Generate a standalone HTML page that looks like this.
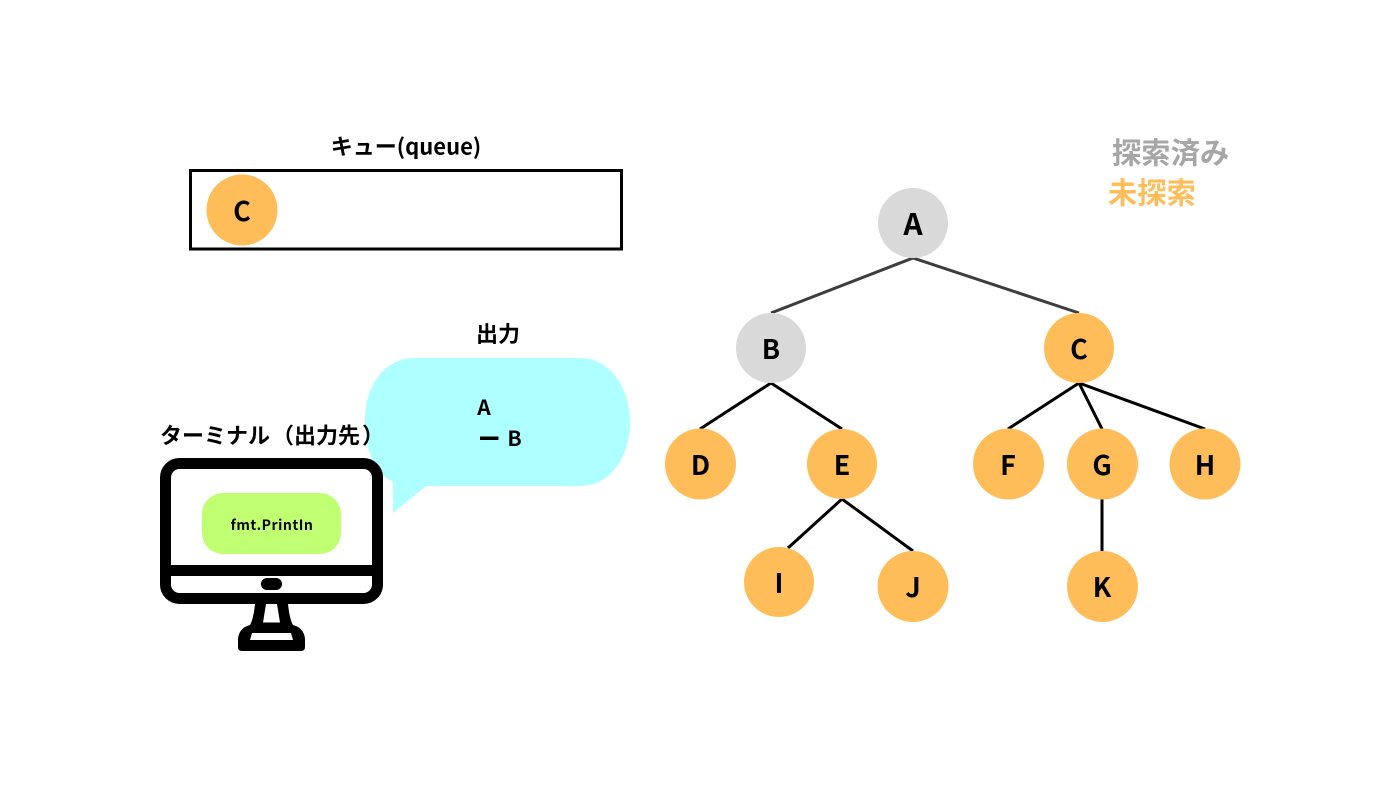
<!DOCTYPE html>
<html lang="ja">
<head>
<meta charset="utf-8">
<style>
html,body{margin:0;padding:0;background:#fff;width:1400px;height:787px;overflow:hidden}
svg{display:block}
text{font-family:"Liberation Sans","Noto Sans CJK JP",sans-serif;font-weight:700;fill:#000}
.j{font-family:"Noto Sans CJK JP",sans-serif;font-feature-settings:"chws" 0,"palt" 0;text-spacing-trim:space-all}
.n{font-family:"Noto Sans CJK JP",sans-serif;font-size:27px;text-anchor:middle}
</style>
</head>
<body>
<svg width="1400" height="787" viewBox="0 0 1400 787" xmlns="http://www.w3.org/2000/svg">
<rect width="1400" height="787" fill="#fff"/>

<!-- queue -->
<text class="j" x="406" y="154.500" font-size="22" text-anchor="middle">キュー(queue)</text>
<rect x="190.5" y="170.5" width="431" height="78.5" fill="#fff" stroke="#000" stroke-width="3"/>
<circle cx="242" cy="210" r="35.5" fill="#ffbd59"/>
<text class="n" x="242" y="221">C</text>

<!-- legend -->
<text class="j" x="1112" y="163.500" font-size="29.3" style="fill:#a6a6a6">探索済み</text>
<text class="j" x="1108" y="203.500" font-size="29.3" style="fill:#ffbd59">未探索</text>

<!-- tree lines -->
<g fill="none" stroke-width="3" stroke="#3d3d3d">
<path d="M771 313L913 258L1079 313"/>
</g>
<g fill="none" stroke-width="3" stroke="#000">
<path d="M700 429L771 383L842 429"/>
<path d="M1008 429L1079 383L1205 429"/>
<path d="M1079 383L1102 429"/>
<path d="M788 548L842 499L913 551"/>
<path d="M1102 499V551"/>
</g>

<!-- tree nodes -->
<circle cx="913" cy="223" r="35" fill="#d9d9d9"/>
<circle cx="771" cy="348" r="35" fill="#d9d9d9"/>
<g fill="#ffbd59">
<circle cx="1079" cy="348" r="35"/>
<circle cx="700.5" cy="464" r="35.5"/>
<circle cx="842" cy="464" r="35"/>
<circle cx="1008.5" cy="464" r="35.5"/>
<circle cx="1102.500" cy="464" r="35.5"/>
<circle cx="1205" cy="464" r="35.5"/>
<circle cx="779" cy="582" r="35"/>
<circle cx="913" cy="586.5" r="35.5"/>
<circle cx="1102.500" cy="586.5" r="35.5"/>
</g>
<text class="n" x="913" y="235" style="font-size:30px">A</text>
<text class="n" x="771" y="359">B</text>
<text class="n" x="1079" y="359">C</text>
<text class="n" x="700.500" y="475">D</text>
<text class="n" x="842" y="475">E</text>
<text class="n" x="1008" y="475">F</text>
<text class="n" x="1102" y="475">G</text>
<text class="n" x="1205" y="475">H</text>
<text class="n" x="779" y="593">I</text>
<text class="n" x="913" y="597">J</text>
<text class="n" x="1102" y="597">K</text>

<!-- output bubble -->
<text class="j" x="498" y="342" font-size="22" text-anchor="middle">出力</text>
<path d="M415 358H580C610 358 630 388 630 422C630 458 610 486 580 486H426L393 513V482C375 474 365 450 365 420C365 385 385 358 415 358Z" fill="#aeffff"/>
<text class="j" x="484" y="415" font-size="21" text-anchor="middle">A</text>
<rect x="480" y="436.500" width="18.500" height="3.500" fill="#000"/>
<text class="j" x="514.500" y="446" font-size="21" text-anchor="middle">B</text>

<!-- terminal -->
<text class="j" x="160" y="443.500" font-size="22">ターミナル</text>
<text class="j" x="272" y="443.500" font-size="22">（</text>
<text class="j" x="294" y="443.500" font-size="22">出力先</text>
<text class="j" x="362" y="443.500" font-size="22">）</text>
<rect x="165.500" y="463.500" width="212" height="135" rx="14" fill="#fff" stroke="#000" stroke-width="11"/>
<rect x="165" y="565" width="212" height="11" fill="#000"/>
<rect x="261" y="578" width="21" height="12" rx="6" fill="#000"/>
<rect x="202" y="493" width="139" height="61" rx="21" fill="#c1ff72"/>
<text class="j" x="272" y="530" font-size="14" letter-spacing="0.5" text-anchor="middle">fmt.PrintIn</text>
<path d="M255 604H288C289 614 291 622 293 625C301 627 305 633 305 640V647Q305 651 301 651H242Q238 651 238 647V640C238 633 242 627 250 625C252 622 254 614 255 604Z" fill="#000"/>
<path d="M266 604H277L280 622.500H263Z" fill="#fff"/>
<path d="M252 633H291L293 640H250Z" fill="#fff"/>
</svg>
</body>
</html>
